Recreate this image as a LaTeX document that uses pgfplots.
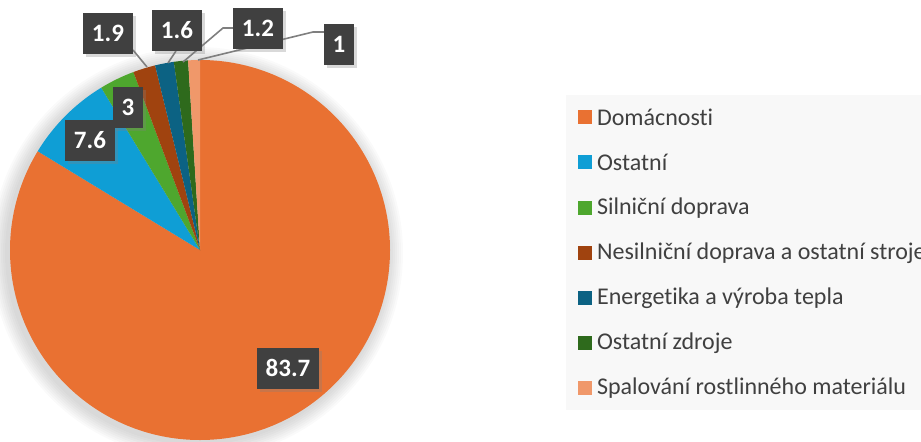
\documentclass[border=0pt]{standalone}
\usepackage{fontspec}
\setmainfont{Carlito}[Ligatures={NoCommon}]
\usepackage{pgfplots}
\pgfplotsset{compat=1.18}
\usetikzlibrary{shadows}
\definecolor{cDom}{HTML}{E97132}
\definecolor{cOst}{HTML}{0F9ED5}
\definecolor{cSil}{HTML}{4EA72E}
\definecolor{cNes}{HTML}{A0430F}
\definecolor{cEne}{HTML}{0C6283}
\definecolor{cOzd}{HTML}{2E6A1C}
\definecolor{cSpa}{HTML}{F0986A}
\definecolor{lblgray}{HTML}{404040}
\definecolor{txtgray}{HTML}{404040}
\definecolor{leader}{HTML}{7F7F7F}
\definecolor{legbg}{HTML}{F8F8F8}
\tikzset{
  lbl/.style={fill=lblgray, text=white, font=\bfseries\fontsize{12.5}{14}\selectfont,
              inner xsep=4.5pt, minimum height=20.5pt,
              drop shadow={shadow xshift=1.5pt, shadow yshift=-1.5pt, opacity=0.3}},
  leg/.style={anchor=west, text=txtgray, font=\fontsize{12}{14}\selectfont},
}

\begin{document}
\begin{tikzpicture}
\useasboundingbox (0,0) rectangle (460.5pt,220.5pt);
\clip (0,0) rectangle (460.5pt,220.5pt);
\begin{axis}[at={(0,0)}, anchor=south west, x=0.5pt, y=0.5pt,
    xmin=0, xmax=921, ymin=0, ymax=441, hide axis, clip=false]

  % legend panel
  \fill[legbg] (axis cs:566,31) rectangle (axis cs:930,346);

  % soft shadow round the pie
  \pgfplotsextra{
    \foreach \k in {1,...,8}{
      \fill[black, opacity=0.02] (axis cs:197,188) circle[radius=95pt+\k pt];
    }
  }

  % slices: shares in %, clockwise from the top
  \pgfplotsextra{
    \def\s{90}
    \foreach \v/\c in {83.7/cDom, 7.6/cOst, 3/cSil, 1.9/cNes, 1.6/cEne, 1.2/cOzd, 1/cSpa}{
      \pgfmathsetmacro\e{\s-3.6*\v}
      \fill[\c] (axis cs:200,191) -- ++(\s:95pt) arc[start angle=\s, end angle=\e, radius=95pt] -- cycle;
      \global\let\s\e
    }
  }

  % leader lines
  \draw[leader, line width=0.8pt] (axis cs:133,391) -- (axis cs:147,374);
  \draw[leader, line width=0.8pt] (axis cs:176,390) -- (axis cs:168,378);
  \draw[leader, line width=0.8pt] (axis cs:234,413) -- (axis cs:223,413) -- (axis cs:183,379);
  \draw[leader, line width=0.8pt] (axis cs:324,409) -- (axis cs:313,409) -- (axis cs:198,381);

  % data labels
  \node[lbl] at (axis cs:288,73) {83.7};
  \node[lbl] at (axis cs:90,301) {7.6};
  \node[lbl] at (axis cs:128,334) {3};
  \node[lbl] at (axis cs:108,408) {1.9};
  \node[lbl] at (axis cs:177,411) {1.6};
  \node[lbl] at (axis cs:258,413) {1.2};
  \node[lbl] at (axis cs:339,397) {1};

  % legend
  \pgfplotsextra{
    \foreach \y/\c in {324/cDom, 279/cOst, 233/cSil, 188/cNes, 143/cEne, 98/cOzd, 53/cSpa}{
      \fill[\c] (axis cs:578,\y-7) rectangle (axis cs:592,\y+7);
    }
  }
  \node[leg] at (axis cs:590,324) {Domácnosti};
  \node[leg] at (axis cs:590,279) {Ostatní};
  \node[leg] at (axis cs:590,233) {Silniční doprava};
  \node[leg] at (axis cs:590,188) {Nesilniční doprava a ostatní stroje};
  \node[leg] at (axis cs:590,143) {Energetika a výroba tepla};
  \node[leg] at (axis cs:590,98) {Ostatní zdroje};
  \node[leg] at (axis cs:590,53) {Spalování rostlinného materiálu};
\end{axis}
\end{tikzpicture}
\end{document}
